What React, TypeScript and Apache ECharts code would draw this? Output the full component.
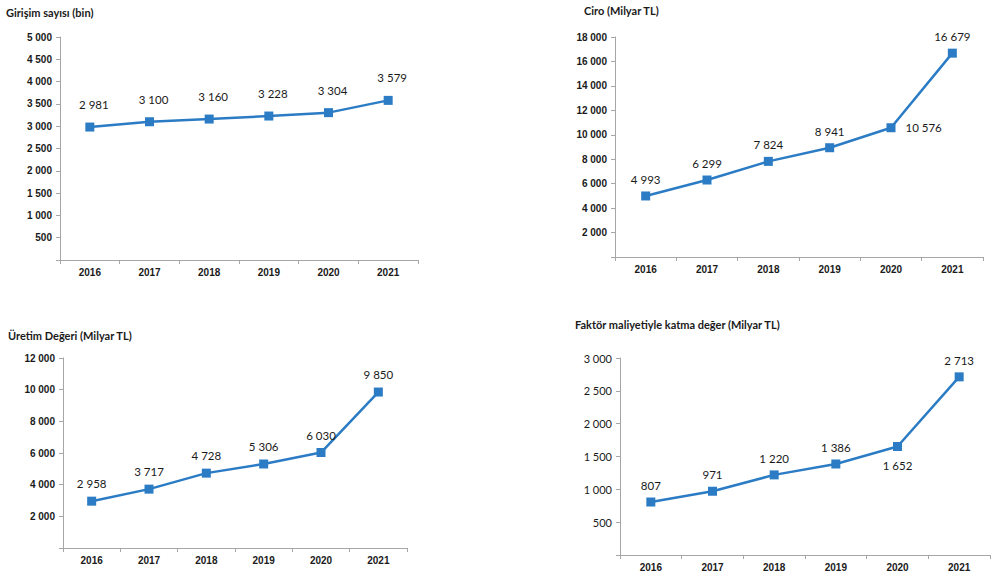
import React, { useEffect, useRef } from "react";
import * as echarts from "echarts";

const years = ["2016", "2017", "2018", "2019", "2020", "2021"];
const girisim = [2981, 3100, 3160, 3228, 3304, 3579];
const ciro = [4993, 6299, 7824, 8941, 10576, 16679];
const uretim = [2958, 3717, 4728, 5306, 6030, 9850];
const faktor = [807, 971, 1220, 1386, 1652, 2713];

const titles = [
  "Girişim sayısı (bin)",
  "Ciro (Milyar TL)",
  "Üretim Değeri (Milyar TL)",
  "Faktör maliyetiyle katma değer (Milyar TL)",
];

const fmt = (v: number) =>
  v === 0 ? "" : String(v).replace(/\B(?=(\d{3})+(?!\d))/g, " ");

const BLUE = "#2B7CC4";

export default function App() {
  const ref = useRef<HTMLDivElement>(null);
  useEffect(() => {
    document.body.style.margin = "0";
    const chart = echarts.init(ref.current!, undefined, { renderer: "svg" });
    const grids = [
      { left: 60, top: 37, width: 358, height: 223 },
      { left: 615, top: 37, width: 368, height: 220 },
      { left: 63, top: 358, width: 344, height: 190 },
      { left: 620, top: 358, width: 370, height: 197 },
    ];
    const yCfg = [
      { max: 5000, interval: 500, bold: true },
      { max: 18000, interval: 2000, bold: true },
      { max: 12000, interval: 2000, bold: true },
      { max: 3000, interval: 500, bold: false },
    ];
    const titlePos = [
      { left: 6, top: 7 },
      { left: 584, top: 5 },
      { left: 8, top: 330 },
      { left: 575, top: 319 },
    ];
    const datasets = [girisim, ciro, uretim, faktor];
    const labelPos: any[][] = [
      ["top", "top", "top", "top", "top", "top"],
      ["top", "top", "top", "top", "right", "top"],
      ["top", "top", "top", "top", "top", "top"],
      ["top", "top", "top", "top", "bottom", "top"],
    ];
    const labelDist = [12, 6, 7, 6];

    chart.setOption({
      animation: false,
      backgroundColor: "#ffffff",
      title: titles.map((t, i) => ({
        text: t,
        left: titlePos[i].left,
        top: titlePos[i].top,
        padding: 0,
        textStyle: {
          fontFamily: "Lato",
          fontSize: 11,
          fontWeight: "bold",
          color: "#1a1a1a",
        },
      })),
      grid: grids,
      xAxis: grids.map((_, i) => ({
        type: "category",
        gridIndex: i,
        data: years,
        boundaryGap: true,
        axisLine: { lineStyle: { color: "#a6a6a6", width: 1 } },
        axisTick: { show: true, length: 4, lineStyle: { color: "#a6a6a6" } },
        axisLabel: {
          margin: 7,
          fontFamily: "Liberation Sans",
          fontSize: 10,
          fontWeight: "bold",
          color: "#1a1a1a",
        },
      })),
      yAxis: grids.map((_, i) => ({
        type: "value",
        gridIndex: i,
        min: 0,
        max: yCfg[i].max,
        interval: yCfg[i].interval,
        splitLine: { show: false },
        axisLine: { show: true, lineStyle: { color: "#a6a6a6", width: 1 } },
        axisTick: { show: true, length: 4, lineStyle: { color: "#a6a6a6" } },
        axisLabel: {
          margin: 8,
          formatter: fmt,
          fontFamily: yCfg[i].bold ? "Liberation Sans" : "Lato",
          fontSize: yCfg[i].bold ? 10 : 11,
          fontWeight: yCfg[i].bold ? "bold" : "normal",
          color: "#1a1a1a",
        },
      })),
      series: datasets.map((d, i) => ({
        type: "line",
        xAxisIndex: i,
        yAxisIndex: i,
        data: d.map((v, j) => ({
          value: v,
          label: {
            position: labelPos[i][j],
            distance: labelPos[i][j] === "right" ? 10 : labelPos[i][j] === "bottom" ? 8 : labelDist[i],
            offset: i === 0 ? [4, 0] : [0, 0],
          },
        })),
        symbol: "rect",
        symbolSize: 9,
        lineStyle: { color: BLUE, width: 2.5 },
        itemStyle: { color: BLUE },
        label: {
          show: true,
          formatter: (p: any) => fmt(p.value),
          fontFamily: "Lato",
          fontSize: 11.5,
          color: "#1a1a1a",
        },
      })),
    });
    return () => chart.dispose();
  }, []);
  return <div ref={ref} style={{ width: 1001, height: 587 }} />;
}
